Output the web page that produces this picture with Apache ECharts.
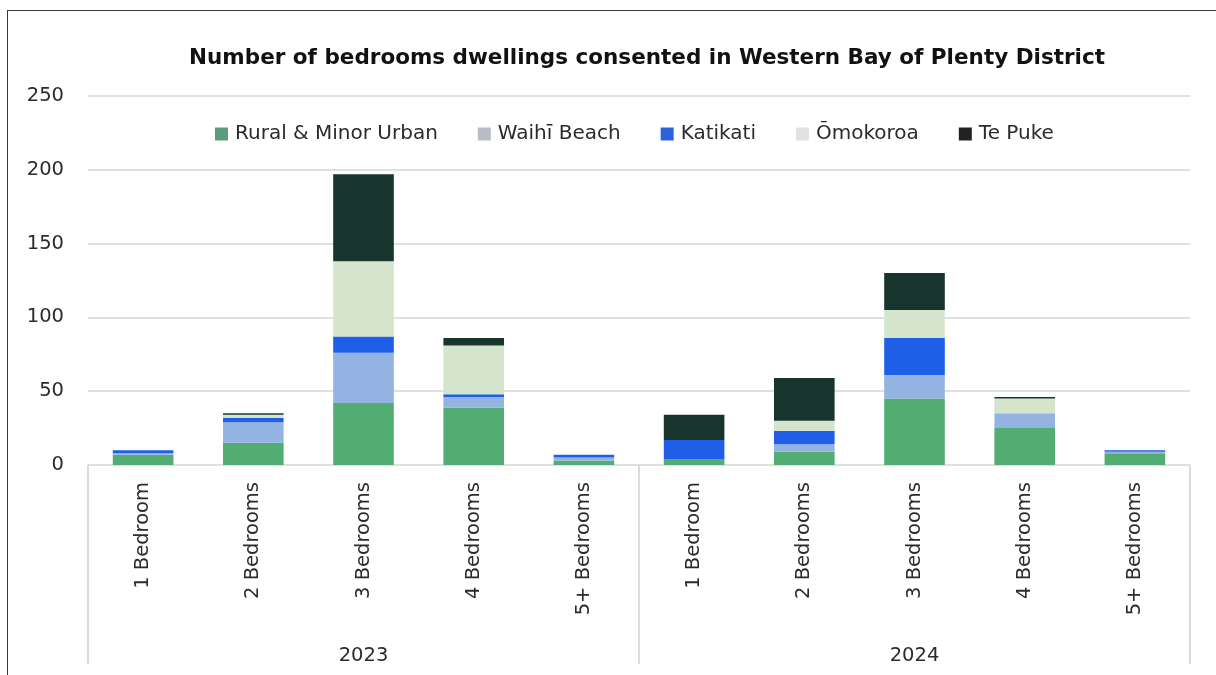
<!DOCTYPE html>
<html>
<head>
<meta charset="utf-8">
<script src="https://cdn.jsdelivr.net/npm/echarts@6/dist/echarts.min.js"></script>
<style>
  html, body { margin: 0; padding: 0; background: #ffffff; }
  #chart { width: 1216px; height: 675px; }
  #frame {
    position: absolute; left: 7px; top: 10px; width: 1230px; height: 700px;
    border-left: 1.5px solid #3a3a3a; border-top: 1.5px solid #3a3a3a;
    pointer-events: none;
  }
</style>
</head>
<body>
<div id="chart"></div>
<div id="frame"></div>
<script>
// Bedroom categories, repeated for each year
const categories = [
  '1 Bedroom', '2 Bedrooms', '3 Bedrooms', '4 Bedrooms', '5+ Bedrooms',
  '1 Bedroom', '2 Bedrooms', '3 Bedrooms', '4 Bedrooms', '5+ Bedrooms'
];
const years = ['2023', '2024'];
const yTicks = [0, 50, 100, 150, 200, 250];

// Dwellings consented by area (2023 x5, then 2024 x5)
const ruralMinorUrban = [7, 15, 42, 39, 3, 4, 9, 45, 25, 8];
const waihiBeach      = [1, 14, 34, 7, 2, 0, 5, 16, 10, 1];
const katikati        = [2, 3, 11, 2, 2, 13, 9, 25, 0, 1];
const omokoroa        = [0, 2, 51, 33, 0, 0, 7, 19, 10, 0];
const tePuke          = [0, 1, 59, 5, 0, 17, 29, 25, 1, 0];

const seriesDefs = [
  { name: 'Rural & Minor Urban', data: ruralMinorUrban, color: '#52ad72', icon: '#5d9b7b' },
  { name: 'Waihī Beach', data: waihiBeach, color: '#93b3e3', icon: '#b9bcc6' },
  { name: 'Katikati', data: katikati, color: '#1f5fe8', icon: '#2a62e0' },
  { name: 'Ōmokoroa', data: omokoroa, color: '#d5e5cb', icon: '#e2e2e2' },
  { name: 'Te Puke', data: tePuke, color: '#17352c', icon: '#222222' }
];

const textColor = '#2b2b2b';
const font = '"DejaVu Sans", sans-serif';

const chart = echarts.init(document.getElementById('chart'), null, { renderer: 'canvas' });

chart.setOption({
  animation: false,
  backgroundColor: '#ffffff',
  title: {
    text: 'Number of bedrooms dwellings consented in Western Bay of Plenty District',
    left: 642, top: 42, textAlign: 'center',
    textStyle: { fontFamily: font, fontWeight: 'bold', fontSize: 21.5, color: '#111111' }
  },
  legend: {
    top: 119, left: 210,
    icon: 'rect',
    itemWidth: 13, itemHeight: 13, itemGap: 40,
    textStyle: { fontFamily: font, fontSize: 20, color: textColor, padding: [0, 0, 0, 2] },
    data: seriesDefs.map(s => ({ name: s.name, itemStyle: { color: s.icon } }))
  },
  grid: { left: 88, right: 26, top: 96, bottom: 210 },
  xAxis: [
    {
      type: 'category',
      data: categories,
      axisLine: { show: false },
      axisTick: { show: false },
      axisLabel: {
        rotate: 90, margin: 17, fontFamily: font, fontSize: 19.5, color: textColor
      }
    },
    {
      type: 'category',
      data: years,
      position: 'bottom',
      axisLine: { show: false },
      axisTick: { show: true, length: 199, lineStyle: { color: '#cfcfcf', width: 1.5 } },
      axisLabel: { margin: 181, fontFamily: font, fontSize: 19.5, color: textColor }
    }
  ],
  yAxis: {
    type: 'value',
    min: yTicks[0], max: yTicks[yTicks.length - 1], interval: 50,
    axisLine: { show: false },
    axisTick: { show: false },
    axisLabel: { margin: 24, fontFamily: font, fontSize: 19.5, color: textColor },
    splitLine: { lineStyle: { color: '#d6d6d6', width: 1.5 } }
  },
  series: seriesDefs.map(s => ({
    name: s.name,
    type: 'bar',
    stack: 'total',
    xAxisIndex: 0,
    barWidth: '55%',
    data: s.data,
    itemStyle: { color: s.color }
  }))
});
</script>
</body>
</html>
